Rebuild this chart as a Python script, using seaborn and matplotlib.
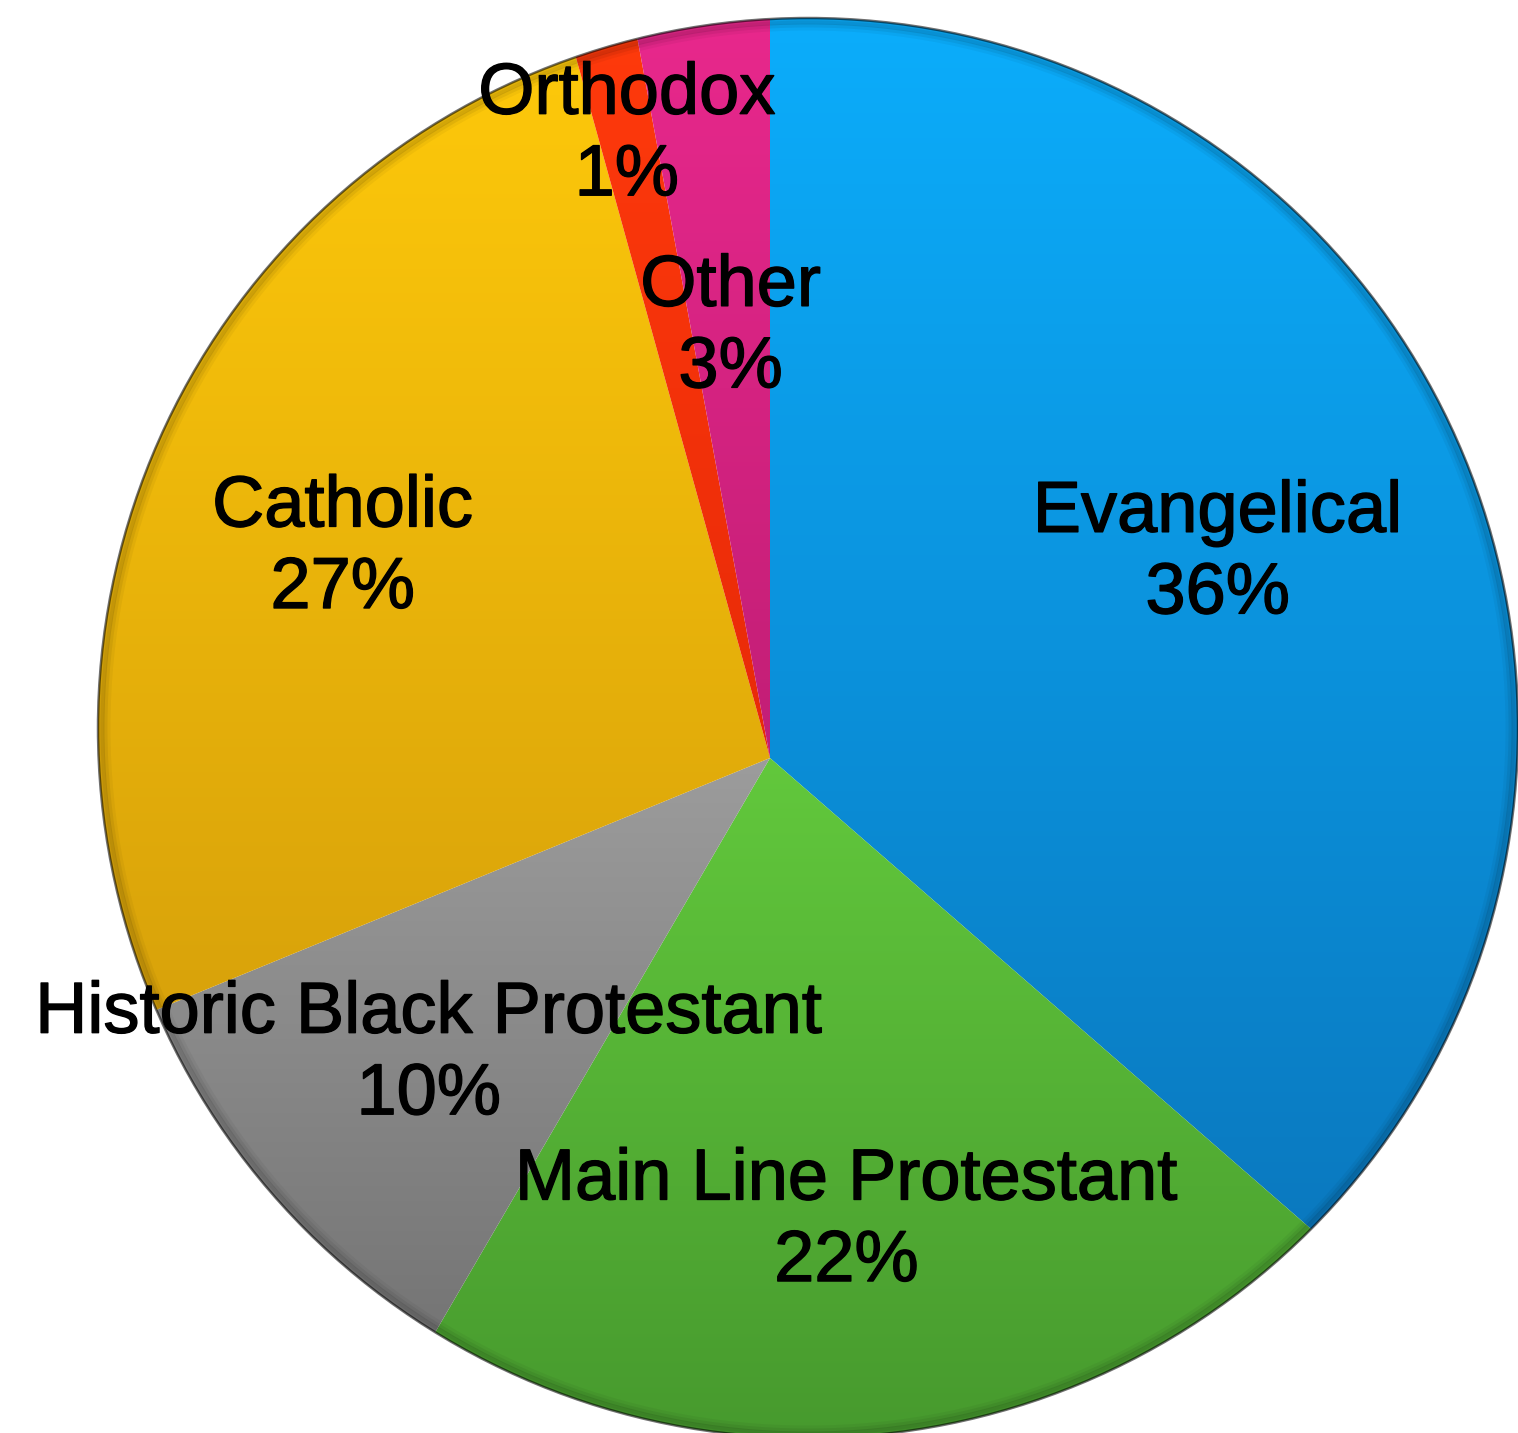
import numpy as np
import seaborn as sns
import matplotlib.pyplot as plt
import matplotlib.patheffects as pe
from matplotlib.colors import LinearSegmentedColormap
from matplotlib.patches import Annulus, Circle

sns.set_theme(style="white")
plt.rcParams['font.family'] = ['Liberation Sans', 'DejaVu Sans']

# data
groups = ['Evangelical', 'Main Line Protestant', 'Historic Black Protestant',
          'Catholic', 'Orthodox', 'Other']
shares = [36.4, 22.0, 10.4, 26.9, 1.4, 2.9]

# colours: light (top of slice) -> dark (bottom of slice)
light = ['#0cadfb', '#62c83c', '#9c9c9c', '#ffca0a', '#ff3a0c', '#e8288c']
dark = ['#0a76bc', '#479a2e', '#6e6e6e', '#d6a00a', '#e82a08', '#c21e76']
label_dist = [0.693, 0.662, 0.637, 0.670, 0.899, 0.608]

W, H = 1518, 1433
apex = (770, H - 758)     # where the slices meet (data = pixels)
rim_c = (808, H - 728)    # centre of the outline (slight perspective)
R = 710

fig = plt.figure(figsize=(W / 100, H / 100), dpi=100)
ax = fig.add_axes([0, 0, 1, 1])

wedges, _ = ax.pie(shares, startangle=90, counterclock=False,
                   colors=light, radius=R + 120, center=apex,
                   wedgeprops=dict(linewidth=0))
ax.set_aspect('auto')

# gradient fill per slice, clipped to the wedge
grad = np.linspace(0, 1, 256).reshape(-1, 1)
top_lim, bot_lim = rim_c[1] + R, rim_c[1] - R
for w, c0, c1 in zip(wedges, light, dark):
    ext = w.get_path().get_extents()
    y1 = min(ext.y1, top_lim)
    y0 = max(ext.y0, bot_lim)
    cmap = LinearSegmentedColormap.from_list('g', [c0, c1])
    im = ax.imshow(grad, cmap=cmap, aspect='auto', origin='upper',
                   extent=(ext.x0, ext.x1, y0, y1), zorder=2)
    im.set_clip_path(w)
    w.set_facecolor('none')

# mask outside the outline + dark rim shading
ax.add_patch(Annulus(rim_c, 3000, 3000 - R, facecolor='white',
                     edgecolor='none', zorder=3))
for k, a in [(9, 0.04), (6, 0.06), (3, 0.10)]:
    ax.add_patch(Circle(rim_c, R - k, fill=False, edgecolor='black',
                        lw=5, alpha=a, zorder=3))
ax.add_patch(Circle(rim_c, R, fill=False, edgecolor='black',
                    lw=1.8, alpha=0.55, zorder=4))

ax.set_xlim(0, W)
ax.set_ylim(0, H)
ax.axis('off')

# labels
for w, name, val, d in zip(wedges, groups, shares, label_dist):
    ang = np.deg2rad((w.theta1 + w.theta2) / 2)
    ax.text(apex[0] + d * R * np.cos(ang), apex[1] + d * R * np.sin(ang),
            f'{name}\n{val:.0f}%', ha='center', va='center', fontsize=52,
            color='black', linespacing=1.28, zorder=5,
            path_effects=[pe.withStroke(linewidth=1.0, foreground='black')])

plt.savefig('out.png', dpi=100)
